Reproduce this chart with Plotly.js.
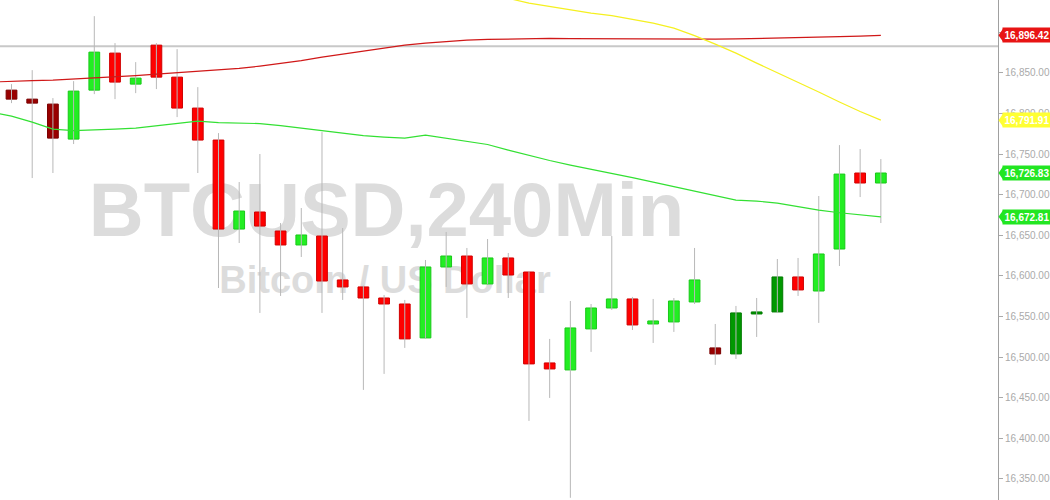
<!DOCTYPE html>
<html>
<head>
<meta charset="utf-8">
<script src="https://cdn.plot.ly/plotly-3.0.1.min.js"></script>
<style>html,body{margin:0;padding:0;background:#fff}#chart{width:1050px;height:500px}</style>
</head>
<body>
<div id="chart"></div>
<script>
// ---- data (BTCUSD, 240 min candles) ----
const candleOpen  = [16828.9,16817.8,16811.7,16768.6,16828.9,16874.5,16836.3,16884.3,16844.9,16806.8,16767.4,16657.8,16678.8,16655.4,16638.2,16649.2,16595.1,16586.5,16572.9,16565.5,16523.7,16611.1,16624.6,16590.2,16622.2,16604.9,16492.9,16484.3,16534.8,16560.6,16571.7,16540.9,16543.4,16568.0,16511.4,16504.0,16553.2,16555.7,16598.8,16581.5,16633.2,16726.8,16714.5];
const candleHigh  = [16836.3,16853.5,16819.1,16840.0,16920.0,16886.8,16863.4,16886.8,16879.4,16832.6,16776.0,16715.7,16750.2,16665.2,16683.7,16777.2,16659.1,16588.0,16576.6,16570.5,16619.7,16654.2,16634.5,16645.5,16628.3,16606.0,16522.5,16569.2,16565.5,16649.2,16574.2,16571.7,16572.9,16634.5,16540.9,16563.1,16572.9,16620.9,16622.2,16698.5,16761.2,16756.3,16744.0];
const candleLow   = [16812.9,16720.6,16726.8,16762.5,16824.0,16817.8,16825.2,16830.2,16795.7,16726.8,16585.2,16640.6,16554.5,16575.4,16623.4,16554.5,16570.5,16459.7,16479.4,16511.4,16522.5,16586.5,16548.3,16590.2,16572.9,16421.5,16449.8,16326.8,16506.5,16558.2,16533.5,16517.5,16531.1,16565.5,16490.5,16497.8,16524.9,16554.5,16575.4,16542.2,16612.3,16697.2,16665.2];
const candleClose = [16817.8,16812.9,16769.8,16827.7,16875.7,16838.8,16843.7,16844.9,16806.8,16767.4,16657.8,16680.0,16661.5,16638.2,16650.5,16593.8,16586.5,16572.9,16565.5,16522.5,16611.1,16624.6,16590.2,16622.2,16601.2,16491.7,16485.5,16536.0,16560.6,16571.7,16539.7,16544.6,16569.2,16595.1,16504.0,16554.5,16555.7,16598.8,16582.8,16627.1,16725.5,16714.5,16726.83];
// candles drawn in the darker shade in the reference
const darkCandles = [0,1,2,34,35,36,37];

// moving averages, first value belongs to the bar before the first visible candle
const maGreen  = [16801.8,16796.9,16789.5,16780.9,16779.1,16779.7,16780.9,16782.2,16785.2,16788.3,16790.8,16788.9,16788.3,16787.7,16785.2,16782.2,16779.7,16776.6,16772.9,16771.1,16769.8,16773.5,16769.8,16766.2,16761.9,16755.1,16748.3,16742.2,16736.6,16731.7,16726.2,16721.2,16715.7,16710.2,16705.2,16699.1,16693.5,16692.3,16689.8,16685.5,16681.2,16677.9,16675.1,16672.81];
const maRed    = [16838.8,16840.0,16840.6,16841.2,16842.5,16843.7,16845.5,16846.8,16848.6,16850.5,16852.3,16854.2,16855.6,16858.5,16861.5,16865.2,16869.5,16873.2,16876.9,16881.2,16884.3,16886.8,16888.6,16890.5,16891.3,16891.9,16892.3,16892.6,16892.3,16892.1,16891.9,16891.8,16891.7,16891.7,16891.7,16891.8,16891.9,16892.3,16892.7,16893.3,16893.9,16894.7,16895.4,16896.42];
const maYellow = [null,null,null,null,null,null,null,null,null,null,null,null,null,null,null,null,null,null,null,null,null,null,null,null,16945.7,16942.0,16936.0,16931.7,16927.4,16923.7,16920.6,16916.3,16911.4,16905.2,16896.0,16885.5,16874.5,16862.2,16850.5,16838.8,16826.5,16814.2,16802.5,16791.91];

const levelLine = 16883.0;
const priceLabels = [
  {value: 16896.42, text: '16,896.42', color: '#e81414'},
  {value: 16791.91, text: '16,791.91', color: '#ffff33'},
  {value: 16726.83, text: '16,726.83', color: '#22e622'},
  {value: 16672.81, text: '16,672.81', color: '#22e622'}
];
const watermarkText = ['BTCUSD,240Min', 'Bitcoin / US Dollar'];

// ---- build traces ----
const n = candleClose.length;
const idx = candleClose.map((_, i) => i);
const maX = [-1].concat(idx);

function bodyTrace(filter, fill, border) {
  const xs = [], base = [], h = [];
  idx.forEach(i => {
    if (filter(i)) {
      xs.push(i);
      const lo = Math.min(candleOpen[i], candleClose[i]);
      const hi = Math.max(candleOpen[i], candleClose[i]);
      base.push(lo); h.push(Math.max(hi - lo, 1.5));
    }
  });
  return {type: 'bar', x: xs, y: h, base: base, width: 0.52, xaxis: 'x2', yaxis: 'y2',
          marker: {color: fill, line: {color: border, width: 1}}, hoverinfo: 'skip', showlegend: false};
}
const isDark = i => darkCandles.indexOf(i) >= 0;
const isUp = i => candleClose[i] >= candleOpen[i];

const wx = [], wy = [];
idx.forEach(i => { wx.push(i, i, null); wy.push(candleLow[i], candleHigh[i], null); });

const traces = [
  {type: 'scatter', mode: 'text', x: [0.3873, 0.3858], y: [0.566, 0.434], text: watermarkText,
   textposition: 'middle center', xaxis: 'x', yaxis: 'y', hoverinfo: 'skip', showlegend: false,
   textfont: {family: 'Liberation Sans, Arial, sans-serif', size: [76, 38], color: '#dcdcdc', weight: 'bold'}},
  {type: 'scatter', mode: 'lines', x: wx, y: wy, xaxis: 'x2', yaxis: 'y2',
   line: {color: '#b8b8b8', width: 1}, hoverinfo: 'skip', showlegend: false},
  bodyTrace(i => !isDark(i) && isUp(i), '#22ee22', '#19c819'),
  bodyTrace(i => !isDark(i) && !isUp(i), '#ff0000', '#d00000'),
  bodyTrace(i => isDark(i) && isUp(i), '#009900', '#007a00'),
  bodyTrace(i => isDark(i) && !isUp(i), '#990000', '#7a0000'),
  {type: 'scatter', mode: 'lines', x: maX, y: maGreen, xaxis: 'x2', yaxis: 'y2',
   line: {color: '#33e033', width: 1.2}, hoverinfo: 'skip', showlegend: false},
  {type: 'scatter', mode: 'lines', x: maX, y: maRed, xaxis: 'x2', yaxis: 'y2',
   line: {color: '#d01818', width: 1.2}, hoverinfo: 'skip', showlegend: false},
  {type: 'scatter', mode: 'lines', x: maX, y: maYellow, xaxis: 'x2', yaxis: 'y2',
   line: {color: '#f5f020', width: 1.2}, hoverinfo: 'skip', showlegend: false}
];

const shapes = [
  {type: 'line', xref: 'paper', yref: 'y2', x0: 0, x1: 1, y0: levelLine, y1: levelLine,
   line: {color: '#c8c8c8', width: 2}, layer: 'below'}
];
const annotations = [];
priceLabels.forEach(p => {
  shapes.push({type: 'path', xref: 'paper', yref: 'y2', xsizemode: 'pixel', ysizemode: 'pixel',
    xanchor: 1, yanchor: p.value, path: 'M 0.5,0 L 5,6.5 L 5,-6.5 Z',
    fillcolor: p.color, line: {width: 0}, layer: 'above'});
  annotations.push({xref: 'paper', yref: 'y2', x: 1, y: p.value, xanchor: 'left', yanchor: 'middle',
    xshift: 4, text: p.text, showarrow: false, bgcolor: p.color, borderpad: 1.5,
    font: {family: 'Liberation Sans, Arial, sans-serif', size: 10, color: '#ffffff', weight: 'bold'}});
});

const layout = {
  width: 1050, height: 500,
  margin: {l: 0, r: 52, t: 0, b: 0},
  paper_bgcolor: '#ffffff', plot_bgcolor: 'rgba(0,0,0,0)',
  showlegend: false, barmode: 'overlay',
  xaxis: {range: [0, 1], visible: false, fixedrange: true},
  yaxis: {range: [0, 1], visible: false, fixedrange: true},
  xaxis2: {overlaying: 'x', range: [-0.556, 47.66], visible: false, showgrid: false, zeroline: false},
  yaxis2: {overlaying: 'y', side: 'right', range: [16324.1, 16939.9], tick0: 0, dtick: 50,
    tickformat: ',.2f', ticks: 'outside', ticklen: 4, tickcolor: '#aaaaaa',
    showline: true, linecolor: '#a0a0a0', linewidth: 1, showgrid: false, zeroline: false,
    automargin: false,
    tickfont: {family: 'Liberation Sans, Arial, sans-serif', size: 10, color: '#aaaaaa'}},
  shapes: shapes,
  annotations: annotations
};

Plotly.newPlot('chart', traces, layout, {displayModeBar: false, staticPlot: true});
</script>
</body>
</html>
